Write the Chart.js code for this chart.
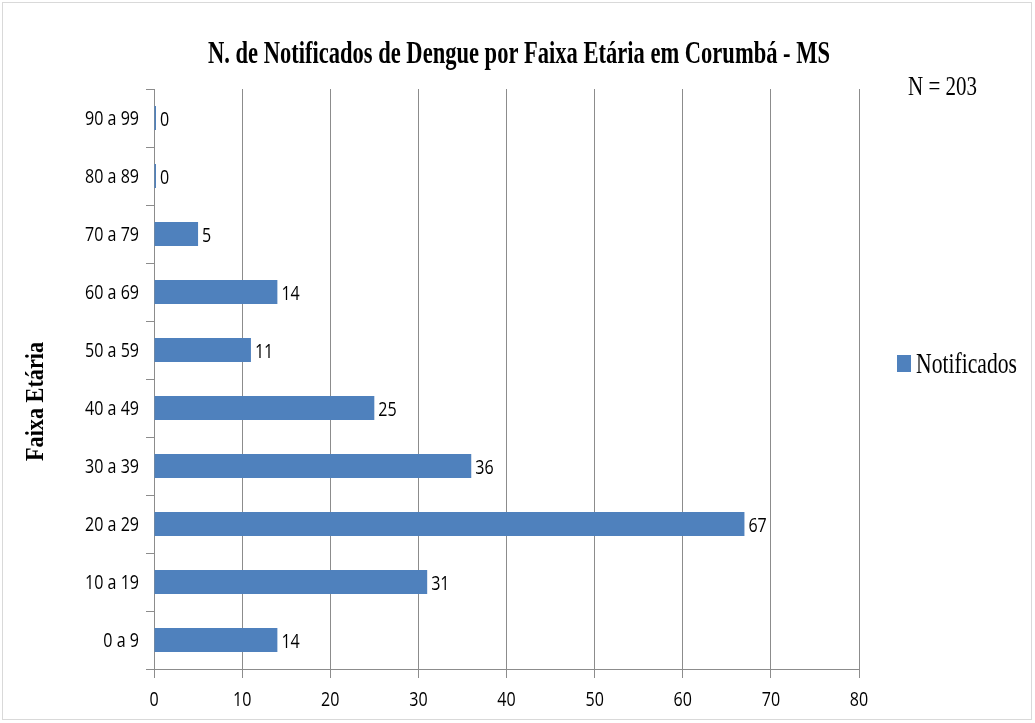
<!DOCTYPE html>
<html lang="pt">
<head>
  <meta charset="UTF-8"/>
  <title>Notificados de Dengue por Faixa Etária</title>
  <style>
    body { margin: 0; background: #fff; }
    #chart { display: block; background: #fff; }
  </style>
</head>
<body>
  <canvas id="chart" width="1035" height="723"></canvas>

  <script src="https://cdn.jsdelivr.net/npm/chart.js"></script>

  <script>
  // data
  const faixas = ['0 a 9','10 a 19','20 a 29','30 a 39','40 a 49','50 a 59','60 a 69','70 a 79','80 a 89','90 a 99'];
  const notificados = [14, 31, 67, 36, 25, 11, 14, 5, 0, 0];
  const xMin = 0, xMax = 80, xStep = 10;
  const chartTitle = 'N. de Notificados de Dengue por Faixa Etária em Corumbá - MS';
  const yTitle = 'Faixa Etária';
  const seriesName = 'Notificados';
  const totalNote = 'N = 203';

  const barColor = '#4f81bd';
  const gridColor = '#8c8c8c';
  const sansFont = "20px 'Open Sans', 'DejaVu Sans Condensed', sans-serif";
  const serif = "'Liberation Serif', 'DejaVu Serif', serif";

  // the original is a horizontally compressed export, so the text is squeezed too
  let sansSqueeze = 0.8;

  function squeezed(ctx, text, x, y, font, sx, align) {
    ctx.save();
    ctx.font = font;
    ctx.textBaseline = 'alphabetic';
    ctx.textAlign = align || 'left';
    ctx.translate(x, y);
    ctx.scale(sx, 1);
    ctx.fillText(text, 0, 0);
    ctx.restore();
  }

  // squeeze factor so that text fills a given width
  function fitScale(ctx, text, font, width) {
    ctx.save();
    ctx.font = font;
    const w = ctx.measureText(text).width;
    ctx.restore();
    return width / w;
  }

  const decorations = {
    id: 'decorations',
    afterDatasetsDraw(chart) {
      const ctx = chart.ctx;
      sansSqueeze = fitScale(ctx, '10 a 19', sansFont, 54);
      ctx.save();
      ctx.fillStyle = '#000';

      // category labels
      const y = chart.scales.y;
      faixas.forEach((f, i) => {
        squeezed(ctx, f, 139, y.getPixelForValue(i) + 7, sansFont, sansSqueeze, 'right');
      });
      // value ticks
      const x = chart.scales.x;
      for (let v = xMin; v <= xMax; v += xStep) {
        squeezed(ctx, String(v), x.getPixelForValue(v), 706, sansFont, sansSqueeze, 'center');
      }
      // value labels at bar ends
      chart.getDatasetMeta(0).data.forEach((bar, i) => {
        squeezed(ctx, String(notificados[i]), bar.x + 4, bar.y + 8, sansFont, sansSqueeze, 'left');
      });
      ctx.restore();
    },
    afterDraw(chart) {
      const ctx = chart.ctx;
      ctx.save();
      ctx.fillStyle = '#000';
      // title
      const tFont = 'bold 32px ' + serif;
      squeezed(ctx, chartTitle, 208, 63, tFont, fitScale(ctx, chartTitle, tFont, 622), 'left');
      // N = 203
      squeezed(ctx, totalNote, 908, 95, '28px ' + serif, 0.75, 'left');
      // y axis title, rotated
      const yFont = 'bold 26px ' + serif;
      ctx.save();
      ctx.translate(43, 461);
      ctx.rotate(-Math.PI / 2);
      squeezed(ctx, yTitle, 0, 0, yFont, fitScale(ctx, yTitle, yFont, 119), 'left');
      ctx.restore();
      // legend
      ctx.fillStyle = barColor;
      ctx.fillRect(897, 355, 14, 17);
      ctx.fillStyle = '#000';
      const lFont = '29px ' + serif;
      squeezed(ctx, seriesName, 916, 373, lFont, fitScale(ctx, seriesName, lFont, 101), 'left');
      // outer frame
      ctx.strokeStyle = '#d9d9d9';
      ctx.lineWidth = 1;
      ctx.strokeRect(2.5, 2.5, 1029, 717);
      ctx.restore();
    }
  };

  new Chart(document.getElementById('chart'), {
    type: 'bar',
    data: {
      labels: faixas,
      datasets: [{
        label: seriesName,
        data: notificados,
        backgroundColor: barColor,
        borderWidth: 0,
        barPercentage: 0.41,
        categoryPercentage: 1,
        minBarLength: 2
      }]
    },
    options: {
      indexAxis: 'y',
      responsive: false,
      animation: false,
      layout: { padding: { top: 89, right: 176, bottom: 0, left: 0 } },
      plugins: {
        legend: { display: false },
        title: { display: false },
        tooltip: { enabled: false }
      },
      scales: {
        x: {
          min: xMin,
          max: xMax,
          afterFit: s => { s.height = 54; },
          ticks: { stepSize: xStep, display: false },
          grid: { color: gridColor, tickLength: 9 },
          border: { color: gridColor }
        },
        y: {
          reverse: true,
          afterFit: s => { s.width = 154; },
          ticks: { display: false },
          grid: { drawOnChartArea: false, color: gridColor, tickLength: 8, offset: true },
          border: { color: gridColor }
        }
      }
    },
    plugins: [decorations]
  });
  </script>
</body>
</html>
